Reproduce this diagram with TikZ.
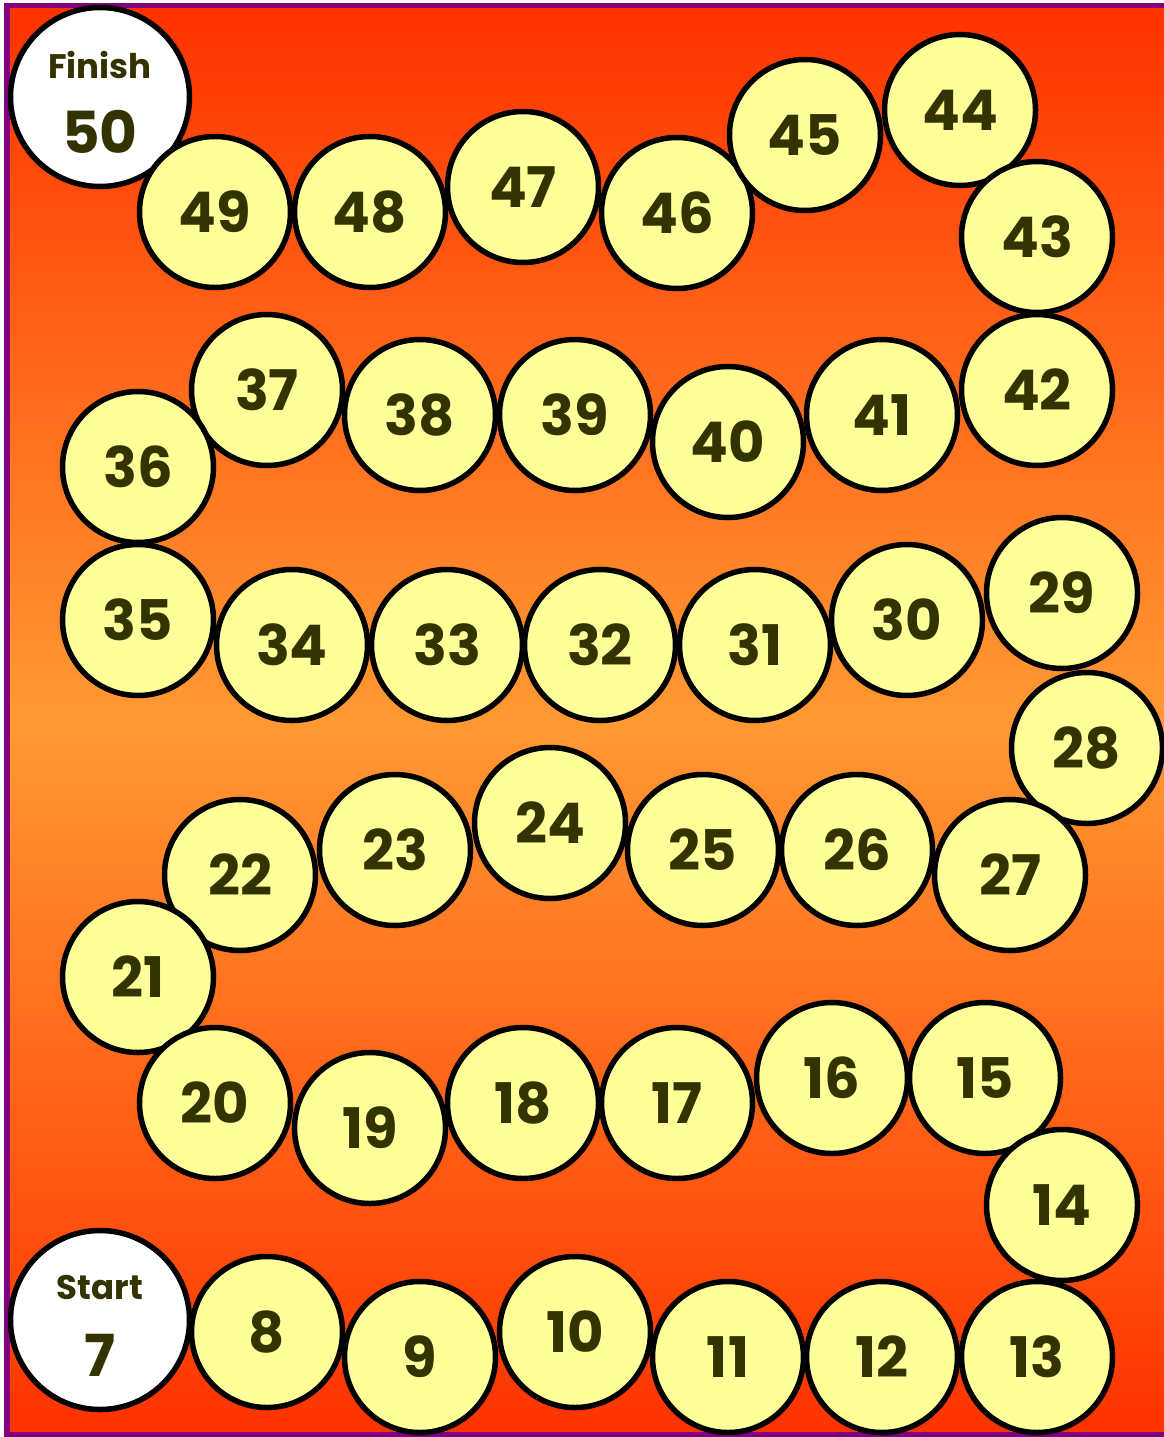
\documentclass[tikz,border=0pt]{standalone}
\usepackage{fontspec}
\setmainfont{Poppins}
\definecolor{bgred}{HTML}{FF3300}
\definecolor{bgorange}{HTML}{FF9933}
\definecolor{frame}{HTML}{800080}
\definecolor{cellyellow}{HTML}{FFFF99}
\definecolor{txt}{HTML}{333300}
\tikzset{
  cell/.style={circle, draw=black, line width=5.5pt, fill=cellyellow, minimum size=151pt, inner sep=0pt,
    text=txt, font=\bfseries\fontsize{56}{56}\selectfont},
  endcell/.style={circle, draw=black, line width=5.5pt, fill=white, minimum size=179pt, inner sep=0pt},
  endword/.style={text=txt, inner sep=0pt, font=\bfseries\fontsize{34}{34}\selectfont},
  endnum/.style={text=txt, inner sep=0pt, font=\bfseries\fontsize{58}{58}\selectfont}
}
\begin{document}
\begin{tikzpicture}[x=1pt,y=-1pt]
\useasboundingbox (0,0) rectangle (1163,1437);
\fill[white] (0,0) rectangle (1163,1437);
\shade[top color=bgred, bottom color=bgred, middle color=bgorange] (10,8) rectangle (1175,1432);
\fill[frame] (4,3) rectangle (10,1437);
\fill[frame] (4,3) rectangle (1175,8);
\fill[frame] (4,1432) rectangle (1175,1437);
% finish
\node[endcell] (finish) at (100,97) {};
\node[endword] (finishword) at (100,65) {Finish};
\node[endnum] (finishnum) at (100,132) {50};
\foreach \n/\x/\y in {
  49/215/212, 48/370/212, 47/523/187, 46/677/213, 45/805/135, 44/960/110,
  43/1037/237, 42/1037/390, 41/882/415, 40/728/442, 39/575/415, 38/420/415,
  37/267/390, 36/138/467, 35/138/620, 34/292/645, 33/447/645, 32/600/645,
  31/755/645, 30/907/620, 29/1062/593, 28/1087/748, 27/1010/875, 26/857/850,
  25/703/850, 24/550/823, 23/395/850, 22/240/875, 21/138/977, 20/215/1103,
  19/370/1128, 18/523/1103, 17/677/1103, 16/832/1078, 15/985/1078, 14/1062/1205,
  13/1037/1357, 12/882/1357, 11/728/1357, 10/575/1332, 9/420/1357, 8/267/1332}
{
  \node[cell] (n\n) at (\x,\y) {\n};
}
% start
\node[endcell] (start) at (100,1320) {};
\node[endword] (startword) at (100,1288) {Start};
\node[endnum] (startnum) at (100,1355) {7};
\end{tikzpicture}
\end{document}
